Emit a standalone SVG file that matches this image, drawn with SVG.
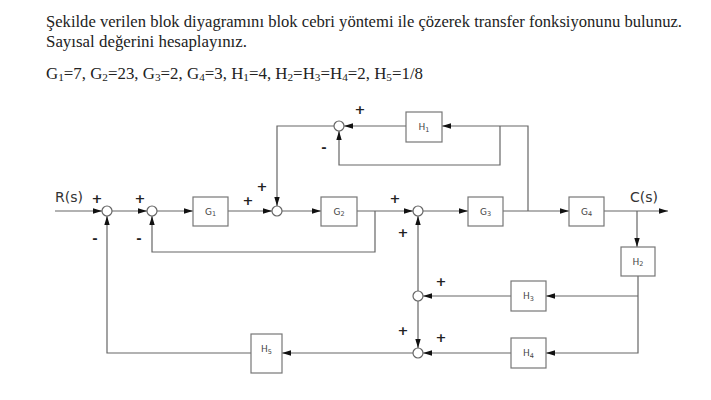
<svg xmlns="http://www.w3.org/2000/svg" width="711" height="400" viewBox="0 0 711 400">
<defs>
<marker id="ar" markerUnits="userSpaceOnUse" markerWidth="10" markerHeight="6" refX="9" refY="3" orient="auto">
<path d="M0,0.3 L9,3 L0,5.7 z" fill="#111"/>
</marker>
<style>
.t{font-family:"Liberation Serif","Times New Roman",serif;font-size:16.5px;fill:#222}
.c{fill:none;stroke:#666;stroke-width:1.2}
.a{marker-end:url(#ar)}
.b{fill:#fff;stroke:#777;stroke-width:1.2}
.s{fill:#fff;stroke:#666;stroke-width:1.2}
.l{font-family:"DejaVu Sans",sans-serif;font-size:9px;fill:#444;text-anchor:middle}
.sb{font-size:6.5px}
.g{font-family:"DejaVu Sans",sans-serif;font-size:13px;font-weight:bold;fill:#222;text-anchor:middle}
.io{font-family:"DejaVu Sans",sans-serif;font-size:14px;fill:#333}
</style>
</defs>
<rect width="711" height="400" fill="#fff"/>
<text class="t" x="46" y="26.7" textLength="636" lengthAdjust="spacingAndGlyphs">Şekilde verilen blok diyagramını blok cebri yöntemi ile çözerek transfer fonksiyonunu bulunuz.</text>
<text class="t" x="46" y="46.7" textLength="201" lengthAdjust="spacingAndGlyphs">Sayısal değerini hesaplayınız.</text>
<text class="t" x="46" y="79" textLength="377" lengthAdjust="spacingAndGlyphs">G<tspan font-size="11" dy="2">1</tspan><tspan dy="-2">=7, G</tspan><tspan font-size="11" dy="2">2</tspan><tspan dy="-2">=23, G</tspan><tspan font-size="11" dy="2">3</tspan><tspan dy="-2">=2, G</tspan><tspan font-size="11" dy="2">4</tspan><tspan dy="-2">=3, H</tspan><tspan font-size="11" dy="2">1</tspan><tspan dy="-2">=4, H</tspan><tspan font-size="11" dy="2">2</tspan><tspan dy="-2">=H</tspan><tspan font-size="11" dy="2">3</tspan><tspan dy="-2">=H</tspan><tspan font-size="11" dy="2">4</tspan><tspan dy="-2">=2, H</tspan><tspan font-size="11" dy="2">5</tspan><tspan dy="-2">=1/8</tspan></text>

<g id="connectors">
<path class="c a" d="M55,211 H102"/>
<path class="c a" d="M112,211 H147"/>
<path class="c a" d="M157,211 H193"/>
<path class="c a" d="M228,211 H272"/>
<path class="c a" d="M282,211 H321"/>
<path class="c a" d="M357,211 H413"/>
<path class="c a" d="M375,211 V252 H152 V216"/>
<path class="c a" d="M423,211 H468"/>
<path class="c a" d="M503,211 H569"/>
<path class="c a" d="M604,211 H668"/>
<path class="c a" d="M637,211 V247"/>
<path class="c a" d="M638,276 V353 H546"/>
<path class="c a" d="M638,296 H546"/>
<path class="c a" d="M511,296 H423"/>
<path class="c a" d="M511,353 H423"/>
<path class="c a" d="M418,291 V216"/>
<path class="c a" d="M418,301 V348"/>
<path class="c a" d="M413,353 H282"/>
<path class="c a" d="M251,353 H107 V216"/>
<path class="c a" d="M528,211 V126 H442"/>
<path class="c a" d="M500,126 V165 H339 V131"/>
<path class="c a" d="M406,126 H344"/>
<path class="c a" d="M334,126 H277 V206"/>
</g>

<g id="sum1"><circle class="s" cx="107" cy="211" r="5"/><text class="g" x="97" y="203">+</text><text class="g" x="95" y="243">-</text></g>
<g id="sum2"><circle class="s" cx="152" cy="211" r="5"/><text class="g" x="140" y="203">+</text><text class="g" x="139" y="243">-</text></g>
<g id="sum3"><circle class="s" cx="277" cy="211" r="5"/><text class="g" x="248" y="205">+</text><text class="g" x="262" y="191">+</text></g>
<g id="sumH1"><circle class="s" cx="339" cy="126" r="5"/><text class="g" x="360" y="114">+</text><text class="g" x="324" y="152">-</text></g>
<g id="sum4"><circle class="s" cx="418" cy="211" r="5"/><text class="g" x="395" y="203">+</text><text class="g" x="403" y="237">+</text></g>
<g id="sum5"><circle class="s" cx="418" cy="296" r="5"/><text class="g" x="441" y="286">+</text></g>
<g id="sum6"><circle class="s" cx="418" cy="353" r="5"/><text class="g" x="403" y="335">+</text><text class="g" x="441" y="342">+</text></g>

<g id="G1"><rect class="b" x="193" y="197" width="35" height="29"/><text class="l" x="210.5" y="214.5">G<tspan class="sb" dy="1.5">1</tspan></text></g>
<g id="G2"><rect class="b" x="321" y="197" width="36" height="29"/><text class="l" x="339" y="214.5">G<tspan class="sb" dy="1.5">2</tspan></text></g>
<g id="G3"><rect class="b" x="468" y="197" width="35" height="29"/><text class="l" x="485.5" y="214.5">G<tspan class="sb" dy="1.5">3</tspan></text></g>
<g id="G4"><rect class="b" x="569" y="197" width="35" height="29"/><text class="l" x="586.5" y="214.5">G<tspan class="sb" dy="1.5">4</tspan></text></g>
<g id="H1"><rect class="b" x="406" y="112" width="36" height="30"/><text class="l" x="424" y="130">H<tspan class="sb" dy="1.5">1</tspan></text></g>
<g id="H2"><rect class="b" x="621" y="247" width="34" height="29"/><text class="l" x="638" y="264.5">H<tspan class="sb" dy="1.5">2</tspan></text></g>
<g id="H3"><rect class="b" x="511" y="281" width="35" height="30"/><text class="l" x="528.5" y="299">H<tspan class="sb" dy="1.5">3</tspan></text></g>
<g id="H4"><rect class="b" x="511" y="338" width="35" height="30"/><text class="l" x="528.5" y="356">H<tspan class="sb" dy="1.5">4</tspan></text></g>
<g id="H5"><rect class="b" x="251" y="334" width="31" height="39"/><text class="l" x="266.5" y="352">H<tspan class="sb" dy="1.5">5</tspan></text></g>

<text class="io" x="55" y="202">R(s)</text>
<text class="io" x="630" y="202">C(s)</text>
</svg>
